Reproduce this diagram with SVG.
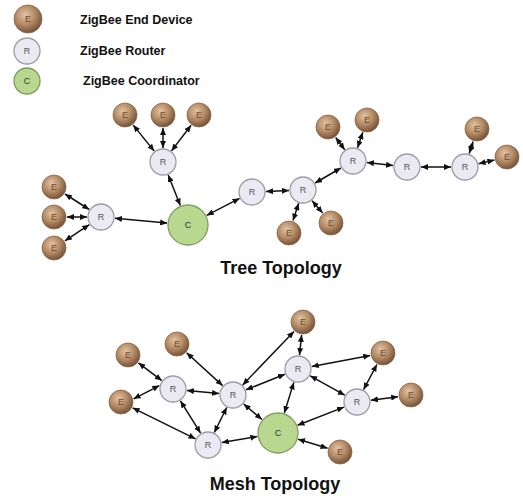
<svg xmlns="http://www.w3.org/2000/svg" width="523" height="499" viewBox="0 0 523 499">
<defs>
<radialGradient id="gE" cx="40%" cy="35%" r="65%">
<stop offset="0%" stop-color="#e2c3a4"/>
<stop offset="55%" stop-color="#b38a64"/>
<stop offset="100%" stop-color="#76533a"/>
</radialGradient>
<marker id="ah" viewBox="0 0 7 6" refX="7" refY="3" markerWidth="7" markerHeight="6" markerUnits="userSpaceOnUse" orient="auto-start-reverse">
<path d="M0,0 L7,3 L0,6 z" fill="#111"/>
</marker>
</defs>
<style>
.e{fill:url(#gE);stroke:#8a6646;stroke-width:0.8}
.r{fill:#ebeaf3;stroke:#9d9ba8;stroke-width:1.3}
.c{fill:#b8d78f;stroke:#7f9b60;stroke-width:1.3}
.lt{font-family:"Liberation Sans",Arial,sans-serif;font-size:9px;text-anchor:middle;dominant-baseline:central}
.et{fill:#6e4b2e}
.rt{fill:#555}
.ct{fill:#333}
.leg{font-family:"Liberation Sans",Arial,sans-serif;font-size:12.5px;font-weight:bold;fill:#111}
.title{font-family:"Liberation Sans",Arial,sans-serif;font-size:18px;font-weight:bold;fill:#111;text-anchor:middle}
#edges line{stroke:#111;stroke-width:1.5;marker-start:url(#ah);marker-end:url(#ah)}
</style>
<rect width="523" height="499" fill="#fff"/>

<g id="legend">
<g id="leg-e"><circle class="e" cx="28" cy="19" r="14"/><text class="lt et" x="28" y="19">E</text></g>
<text class="leg" x="80" y="24">ZigBee End Device</text>
<g id="leg-r"><circle class="r" cx="27" cy="51" r="13"/><text class="lt rt" x="27" y="51">R</text></g>
<text class="leg" x="80" y="55">ZigBee Router</text>
<g id="leg-c"><circle class="c" cx="27" cy="81" r="13"/><text class="lt ct" x="27" y="81">C</text></g>
<text class="leg" x="83" y="85">ZigBee Coordinator</text>
</g>

<g id="edges">
<line x1="133.2" y1="125.1" x2="154.2" y2="151.1"/>
<line x1="163" y1="128" x2="163" y2="148"/>
<line x1="191.1" y1="125.3" x2="171.5" y2="150.9"/>
<line x1="168.2" y1="175" x2="180.3" y2="205.5"/>
<line x1="65" y1="194" x2="89.2" y2="209.5"/>
<line x1="67" y1="217" x2="87" y2="217"/>
<line x1="64.9" y1="240.8" x2="89.3" y2="224.7"/>
<line x1="114.9" y1="218.3" x2="167.1" y2="223.1"/>
<line x1="206.7" y1="215.4" x2="239.6" y2="198.4"/>
<line x1="266" y1="191.5" x2="289" y2="190.5"/>
<line x1="315.1" y1="183" x2="340.9" y2="168"/>
<line x1="298.7" y1="203.3" x2="293" y2="220.6"/>
<line x1="312.1" y1="200.7" x2="322.6" y2="213.1"/>
<line x1="344.7" y1="149.7" x2="335.7" y2="137.5"/>
<line x1="357.5" y1="147.8" x2="362.8" y2="132.3"/>
<line x1="366.9" y1="162.5" x2="393.1" y2="165.5"/>
<line x1="421" y1="167" x2="451" y2="167"/>
<line x1="469.2" y1="153.6" x2="473.1" y2="141.4"/>
<line x1="478.6" y1="163.8" x2="494.4" y2="160"/>

<line x1="138.4" y1="362.8" x2="161.8" y2="380.6"/>
<line x1="133.6" y1="398.8" x2="159.4" y2="385.6"/>
<line x1="132.6" y1="407.8" x2="195.5" y2="438.8"/>
<line x1="186.9" y1="390.4" x2="219.1" y2="393.6"/>
<line x1="180.4" y1="400.9" x2="200.6" y2="433.1"/>
<line x1="186.6" y1="352.8" x2="222.6" y2="385.6"/>
<line x1="294" y1="331.4" x2="242.7" y2="384.9"/>
<line x1="301.6" y1="334.9" x2="299.5" y2="355.1"/>
<line x1="246" y1="389.8" x2="285" y2="374.2"/>
<line x1="226.7" y1="407.5" x2="214.3" y2="432.5"/>
<line x1="243.7" y1="404" x2="262" y2="419.5"/>
<line x1="293.8" y1="382.4" x2="284.3" y2="413"/>
<line x1="311.8" y1="366.4" x2="370.2" y2="355.4"/>
<line x1="310.2" y1="375.8" x2="344.8" y2="395.2"/>
<line x1="376.9" y1="364.5" x2="363.6" y2="389.6"/>
<line x1="370.9" y1="400.2" x2="398.1" y2="396.7"/>
<line x1="344" y1="407.1" x2="297.5" y2="425.3"/>
<line x1="221.8" y1="442.6" x2="257.3" y2="436.5"/>
<line x1="298.1" y1="439.2" x2="327.6" y2="448.2"/>
</g>

<!-- Tree topology nodes -->
<g id="t-e1"><circle class="e" cx="125" cy="115" r="12"/><text class="lt et" x="125" y="115">E</text></g>
<g id="t-e2"><circle class="e" cx="163" cy="115" r="12"/><text class="lt et" x="163" y="115">E</text></g>
<g id="t-e3"><circle class="e" cx="199" cy="115" r="12"/><text class="lt et" x="199" y="115">E</text></g>
<g id="t-r1"><circle class="r" cx="163" cy="162" r="13"/><text class="lt rt" x="163" y="162">R</text></g>
<g id="t-c"><circle class="c" cx="188" cy="225" r="20"/><text class="lt ct" x="188" y="225">C</text></g>
<g id="t-r2"><circle class="r" cx="101" cy="217" r="13"/><text class="lt rt" x="101" y="217">R</text></g>
<g id="t-e4"><circle class="e" cx="54" cy="187" r="12"/><text class="lt et" x="54" y="187">E</text></g>
<g id="t-e5"><circle class="e" cx="54" cy="217" r="12"/><text class="lt et" x="54" y="217">E</text></g>
<g id="t-e6"><circle class="e" cx="54" cy="248" r="12"/><text class="lt et" x="54" y="248">E</text></g>
<g id="t-r3"><circle class="r" cx="252" cy="192" r="13"/><text class="lt rt" x="252" y="192">R</text></g>
<g id="t-r4"><circle class="r" cx="303" cy="190" r="13"/><text class="lt rt" x="303" y="190">R</text></g>
<g id="t-r5"><circle class="r" cx="353" cy="161" r="13"/><text class="lt rt" x="353" y="161">R</text></g>
<g id="t-r6"><circle class="r" cx="407" cy="167" r="13"/><text class="lt rt" x="407" y="167">R</text></g>
<g id="t-r7"><circle class="r" cx="465" cy="167" r="13"/><text class="lt rt" x="465" y="167">R</text></g>
<g id="t-e7"><circle class="e" cx="328" cy="127" r="12"/><text class="lt et" x="328" y="127">E</text></g>
<g id="t-e8"><circle class="e" cx="367" cy="120" r="12"/><text class="lt et" x="367" y="120">E</text></g>
<g id="t-e9"><circle class="e" cx="477" cy="129" r="12"/><text class="lt et" x="477" y="129">E</text></g>
<g id="t-e10"><circle class="e" cx="507" cy="157" r="12"/><text class="lt et" x="507" y="157">E</text></g>
<g id="t-e11"><circle class="e" cx="289" cy="233" r="12"/><text class="lt et" x="289" y="233">E</text></g>
<g id="t-e12"><circle class="e" cx="331" cy="223" r="12"/><text class="lt et" x="331" y="223">E</text></g>
<text class="title" x="281" y="274">Tree Topology</text>

<!-- Mesh topology nodes -->
<g id="m-e1"><circle class="e" cx="128" cy="355" r="12"/><text class="lt et" x="128" y="355">E</text></g>
<g id="m-e2"><circle class="e" cx="177" cy="344" r="12"/><text class="lt et" x="177" y="344">E</text></g>
<g id="m-e3"><circle class="e" cx="303" cy="322" r="12"/><text class="lt et" x="303" y="322">E</text></g>
<g id="m-e4"><circle class="e" cx="383" cy="353" r="12"/><text class="lt et" x="383" y="353">E</text></g>
<g id="m-e5"><circle class="e" cx="411" cy="395" r="12"/><text class="lt et" x="411" y="395">E</text></g>
<g id="m-e6"><circle class="e" cx="121" cy="402" r="12"/><text class="lt et" x="121" y="402">E</text></g>
<g id="m-e7"><circle class="e" cx="340" cy="452" r="12"/><text class="lt et" x="340" y="452">E</text></g>
<g id="m-r1"><circle class="r" cx="173" cy="389" r="13"/><text class="lt rt" x="173" y="389">R</text></g>
<g id="m-r2"><circle class="r" cx="233" cy="395" r="13"/><text class="lt rt" x="233" y="395">R</text></g>
<g id="m-r3"><circle class="r" cx="298" cy="369" r="13"/><text class="lt rt" x="298" y="369">R</text></g>
<g id="m-r4"><circle class="r" cx="357" cy="402" r="13"/><text class="lt rt" x="357" y="402">R</text></g>
<g id="m-r5"><circle class="r" cx="208" cy="445" r="13"/><text class="lt rt" x="208" y="445">R</text></g>
<g id="m-c"><circle class="c" cx="278" cy="433" r="20"/><text class="lt ct" x="278" y="433">C</text></g>
<text class="title" x="275" y="490">Mesh Topology</text>
</svg>
